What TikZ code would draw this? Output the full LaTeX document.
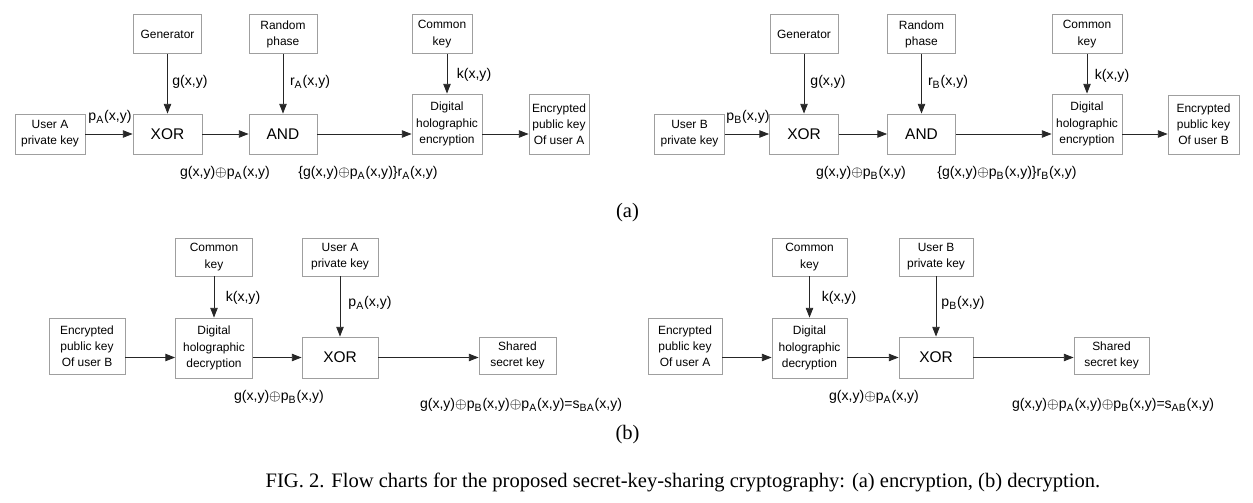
\documentclass[tikz,border=0pt]{standalone}
\usepackage{fontspec}
\setmainfont{Liberation Serif}
\newfontfamily\diagfont{Liberation Sans}
\usetikzlibrary{arrows.meta, positioning, calc}

\begin{document}
\begin{tikzpicture}[x=0.02cm, y=-0.02cm,
    box/.style={draw=gray!75, line width=0.5pt, align=center, inner sep=0pt,
                font=\diagfont\fontsize{6.8}{9.2}\selectfont},
    gate/.style={box, font=\diagfont\fontsize{8.8}{10}\selectfont},
    lbl/.style={inner sep=0pt, font=\diagfont\fontsize{8}{9.6}\selectfont},
    captext/.style={inner sep=0pt, font=\fontsize{11.7}{14}\selectfont},
    flow/.style={-{Triangle[length=5.5pt, width=4.2pt]}, line width=0.45pt, black!85}]
  \useasboundingbox (0,0) rectangle (1253,503);

  % (a) user A
  \node[box, minimum width=1.4cm, minimum height=0.8cm] (privA) at (50,134) {User A\\private key};
  \node[box, minimum width=1.36cm, minimum height=0.78cm] (genA) at (167.5,34) {Generator};
  \node[gate, minimum width=1.38cm, minimum height=0.8cm] (xorA) at (167.5,134) {XOR};
  \node[box, minimum width=1.36cm, minimum height=0.78cm] (rndA) at (283,34) {Random\\phase};
  \node[gate, minimum width=1.36cm, minimum height=0.8cm] (andA) at (283,134) {AND};
  \node[box, minimum width=1.2cm, minimum height=0.78cm] (ckA) at (442,34) {Common\\key};
  \node[box, minimum width=1.4cm, minimum height=1.2cm] (dheA) at (447,124) {Digital\\holographic\\encryption};
  \node[box, minimum width=1.2cm, minimum height=1.2cm] (epA) at (559,124) {Encrypted\\public key\\Of user A};
  \draw[flow] (privA) -- (xorA);
  \draw[flow] (xorA) -- (andA);
  \draw[flow] (andA.east) -- (andA.east -| dheA.west);
  \draw[flow] (dheA.east |- andA) -- (epA.west |- andA);
  \draw[flow] (genA) -- (xorA);
  \draw[flow] (rndA) -- (andA);
  \draw[flow] (ckA.south -| dheA.north) -- (dheA.north);
  \node[lbl] (pA) at (110,117) {p\textsubscript{A}(x,y)};
  \node[lbl] (gA) at (190,82) {g(x,y)};
  \node[lbl] (rA) at (310,82) {r\textsubscript{A}(x,y)};
  \node[lbl] (kA) at (474,75) {k(x,y)};
  \node[lbl] (sumA) at (225,173) {g(x,y)$\oplus$p\textsubscript{A}(x,y)};
  \node[lbl] (prodA) at (368,173) {\{g(x,y)$\oplus$p\textsubscript{A}(x,y)\}r\textsubscript{A}(x,y)};

  % (a) user B
  \node[box, minimum width=1.4cm, minimum height=0.8cm] (privB) at (689.5,134) {User B\\private key};
  \node[box, minimum width=1.36cm, minimum height=0.78cm] (genB) at (804,34) {Generator};
  \node[gate, minimum width=1.38cm, minimum height=0.8cm] (xorB) at (804,134) {XOR};
  \node[box, minimum width=1.36cm, minimum height=0.78cm] (rndB) at (921.5,34) {Random\\phase};
  \node[gate, minimum width=1.36cm, minimum height=0.8cm] (andB) at (921.5,134) {AND};
  \node[box, minimum width=1.4cm, minimum height=0.78cm] (ckB) at (1087,34) {Common\\key};
  \node[box, minimum width=1.4cm, minimum height=1.2cm] (dheB) at (1087,124) {Digital\\holographic\\encryption};
  \node[box, minimum width=1.42cm, minimum height=1.18cm] (epB) at (1203.5,124.5) {Encrypted\\public key\\Of user B};
  \draw[flow] (privB) -- (xorB);
  \draw[flow] (xorB) -- (andB);
  \draw[flow] (andB.east) -- (andB.east -| dheB.west);
  \draw[flow] (dheB.east |- andB) -- (epB.west |- andB);
  \draw[flow] (genB) -- (xorB);
  \draw[flow] (rndB) -- (andB);
  \draw[flow] (ckB) -- (dheB);
  \node[lbl] (pB) at (748,117) {p\textsubscript{B}(x,y)};
  \node[lbl] (gB) at (828,82) {g(x,y)};
  \node[lbl] (rB) at (948,82) {r\textsubscript{B}(x,y)};
  \node[lbl] (kB) at (1112,76) {k(x,y)};
  \node[lbl] (sumB) at (861,173) {g(x,y)$\oplus$p\textsubscript{B}(x,y)};
  \node[lbl] (prodB) at (1007,173) {\{g(x,y)$\oplus$p\textsubscript{B}(x,y)\}r\textsubscript{B}(x,y)};

  \node[captext] (capa) at (627.5,213) {(a)};

  % (b) user A decrypts
  \node[box, minimum width=1.52cm, minimum height=1.12cm] (epB2) at (87,346) {Encrypted\\public key\\Of user B};
  \node[box, minimum width=1.54cm, minimum height=0.76cm] (ckC) at (214,257) {Common\\key};
  \node[box, minimum width=1.54cm, minimum height=1.2cm] (dhdA) at (214,348) {Digital\\holographic\\decryption};
  \node[box, minimum width=1.52cm, minimum height=0.76cm] (privA2) at (340,257) {User A\\private key};
  \node[gate, minimum width=1.52cm, minimum height=0.82cm] (xorC) at (340,357.5) {XOR};
  \node[box, minimum width=1.54cm, minimum height=0.74cm] (ssA) at (517.5,355.5) {Shared\\secret key};
  \draw[flow] (epB2.east |- xorC) -- (dhdA.west |- xorC);
  \draw[flow] (dhdA.east |- xorC) -- (xorC.west);
  \draw[flow] (xorC.east) -- (xorC.east -| ssA.west);
  \draw[flow] (ckC) -- (dhdA);
  \draw[flow] (privA2) -- (xorC);
  \node[lbl] (kC) at (243,298) {k(x,y)};
  \node[lbl] (pC) at (370,303) {p\textsubscript{A}(x,y)};
  \node[lbl] (sumC) at (279,397) {g(x,y)$\oplus$p\textsubscript{B}(x,y)};
  \node[lbl] (sBA) at (521,405) {g(x,y)$\oplus$p\textsubscript{B}(x,y)$\oplus$p\textsubscript{A}(x,y)=s\textsubscript{BA}(x,y)};

  % (b) user B decrypts
  \node[box, minimum width=1.48cm, minimum height=1.12cm] (epA2) at (685,346) {Encrypted\\public key\\Of user A};
  \node[box, minimum width=1.5cm, minimum height=0.76cm] (ckD) at (809.5,257) {Common\\key};
  \node[box, minimum width=1.5cm, minimum height=1.2cm] (dhdB) at (809.5,348) {Digital\\holographic\\decryption};
  \node[box, minimum width=1.48cm, minimum height=0.76cm] (privB2) at (936,257) {User B\\private key};
  \node[gate, minimum width=1.48cm, minimum height=0.82cm] (xorD) at (936,357.5) {XOR};
  \node[box, minimum width=1.5cm, minimum height=0.74cm] (ssB) at (1111.5,355.5) {Shared\\secret key};
  \draw[flow] (epA2.east |- xorD) -- (dhdB.west |- xorD);
  \draw[flow] (dhdB.east |- xorD) -- (xorD.west);
  \draw[flow] (xorD.east) -- (xorD.east -| ssB.west);
  \draw[flow] (ckD) -- (dhdB);
  \draw[flow] (privB2) -- (xorD);
  \node[lbl] (kD) at (839,298) {k(x,y)};
  \node[lbl] (pD) at (963,303) {p\textsubscript{B}(x,y)};
  \node[lbl] (sumD) at (874,397) {g(x,y)$\oplus$p\textsubscript{A}(x,y)};
  \node[lbl] (sAB) at (1113,405) {g(x,y)$\oplus$p\textsubscript{A}(x,y)$\oplus$p\textsubscript{B}(x,y)=s\textsubscript{AB}(x,y)};

  \node[captext] (capb) at (627.5,435) {(b)};
  \node[captext] (fig) at (683,482) {FIG. 2. Flow charts for the proposed secret-key-sharing cryptography: (a) encryption, (b) decryption.};
\end{tikzpicture}
\end{document}
